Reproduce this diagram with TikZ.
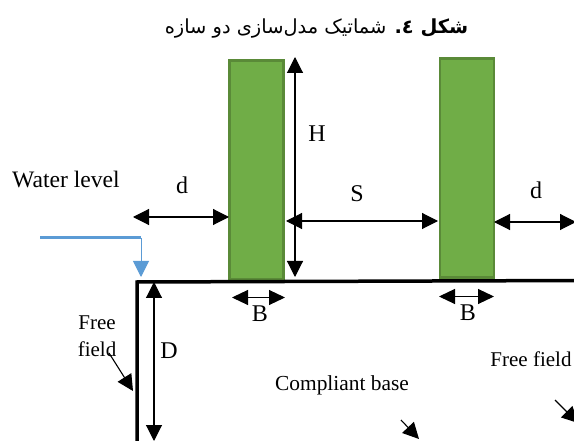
\documentclass[tikz,border=0pt]{standalone}
\usepackage{fontspec}
\setmainfont{Liberation Serif}
\newfontfamily\arabicfont[Script=Arabic]{DejaVu Sans}
\TeXXeTstate=1
\usetikzlibrary{arrows.meta}
\definecolor{towerfill}{HTML}{70AD47}
\definecolor{towerline}{HTML}{5A8A38}
\definecolor{waterblue}{HTML}{5B9BD5}
\tikzset{
  tower/.style={draw=towerline,fill=towerfill,line width=2.2pt,minimum width=54pt,minimum height=219pt,inner sep=0pt,outer sep=0pt},
  dim/.style={line width=1.1pt,{Triangle[length=16pt,width=16pt]}-{Triangle[length=16pt,width=16pt]}},
  dimsmall/.style={line width=1.1pt,{Triangle[length=16pt,width=15pt]}-{Triangle[length=16pt,width=15pt]}},
  lead/.style={line width=1.1pt,-{Triangle[length=16pt,width=16pt]}},
  lbl/.style={inner sep=0pt,font=\fontsize{24}{28}\selectfont},
  lblsmall/.style={inner sep=0pt,font=\fontsize{21}{27}\selectfont,align=center},
  ground/.style={line width=3.5pt,line join=miter,line cap=rect},
}
\begin{document}
\begin{tikzpicture}[x=1pt,y=-1pt]
\path[use as bounding box] (0,0) rectangle (574,441);
\clip (0,0) rectangle (574,441);
\fill[white] (0,0) rectangle (574,441);
% caption
\node (cap) at (316.5,28) [inner sep=0pt,font=\fontsize{19.4}{22}\selectfont\arabicfont] {\beginR\textbf{شکل ٤.} شماتیک مدل‌سازی دو سازه\endR};
% towers
\node[tower] (t1) at (256.5,170) {};
\node[tower] (t2) at (467,168) {};
% coordinates
\coordinate (gTL) at (137,282);
\coordinate (gBL) at (137,445);
\coordinate (gR) at (580,280.5);
\draw[ground] (gBL) -- (gTL) -- (gR);
\coordinate (w0) at (40,238);
\coordinate (w1) at (141,238);
\coordinate (w2) at (141,277);
\draw[waterblue,line width=3pt] (w0) -- (w1);
\draw[waterblue,line width=1pt,-{Triangle[length=16pt,width=16pt]}] (w1) -- (w2);
% dimensions
\coordinate (d1a) at (133,217);
\coordinate (d1b) at (229,217);
\draw[dim] (d1a) -- (d1b);
\coordinate (Ha) at (295,57);
\coordinate (Hb) at (295,277);
\draw[dim] (Ha) -- (Hb);
\coordinate (Sa) at (286,221);
\coordinate (Sb) at (438,221);
\draw[dim] (Sa) -- (Sb);
\coordinate (d2a) at (494,222);
\coordinate (d2b) at (576,222);
\draw[dim] (d2a) -- (d2b);
\coordinate (B1a) at (232,297.5);
\coordinate (B1b) at (285,297.5);
\draw[dimsmall] (B1a) -- (B1b);
\coordinate (B2a) at (439,296.5);
\coordinate (B2b) at (494,296.5);
\draw[dimsmall] (B2a) -- (B2b);
\coordinate (Da) at (154,282);
\coordinate (Db) at (154,441);
\draw[dim] (Da) -- (Db);
% leads
\node[lblsmall] (ff1) at (97,336) {Free\\field};
\coordinate (f1a) at (109,353);
\coordinate (f1b) at (133,391);
\draw[lead] (f1a) -- (f1b);
\node[inner sep=0pt,font=\fontsize{21.4}{24}\selectfont] (cb) at (342,385) {Compliant base};
\coordinate (c1a) at (401,420);
\coordinate (c1b) at (419,439);
\draw[lead] (c1a) -- (c1b);
\node[inner sep=0pt,font=\fontsize{21}{24}\selectfont] (ff2) at (531,359) {Free field};
\coordinate (f2a) at (555,400);
\coordinate (f2b) at (578,423);
\draw[lead] (f2a) -- (f2b);
% labels
\node[inner sep=0pt,font=\fontsize{23.6}{28}\selectfont] (wl) at (66,179) {Water level};
\node[lbl] (dl1) at (182,185) {d};
\node[lbl] (Hl) at (317,134) {H};
\node[lbl] (Sl) at (357,194) {S};
\node[lbl] (dl2) at (536,190) {d};
\node[lbl] (Bl1) at (260,314) {B};
\node[lbl] (Bl2) at (468,313) {B};
\node[lbl] (Dl) at (169,351) {D};
\end{tikzpicture}
\end{document}
